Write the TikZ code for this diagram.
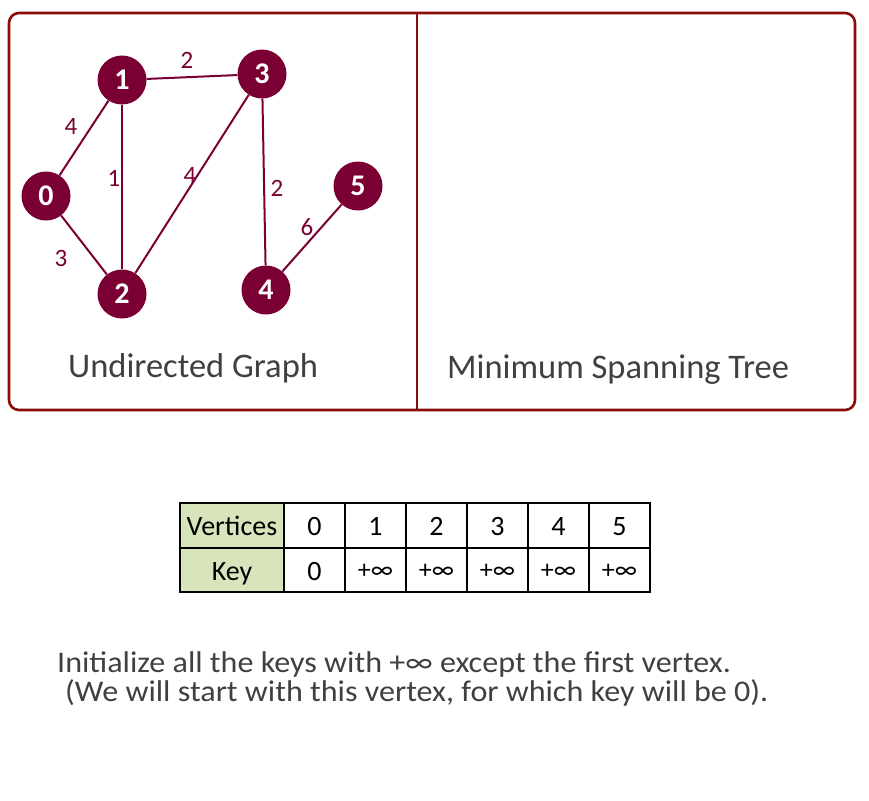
\documentclass[tikz,border=0pt]{standalone}
\usepackage{fontspec}
\setmainfont{Carlito}
\newfontfamily\widefont[FakeStretch=1.07]{Carlito}
\definecolor{nodefill}{HTML}{7A0034}
\definecolor{boxred}{HTML}{8B0A0A}
\definecolor{txtgray}{HTML}{404040}
\definecolor{cellgreen}{HTML}{D8E4BC}
\tikzset{
  vtx/.style={circle, fill=nodefill, minimum size=49pt, inner sep=0pt, text=white, font=\fontsize{30}{30}\selectfont\bfseries},
  edge/.style={draw=nodefill, line width=2pt},
  wlbl/.style={text=nodefill, inner sep=0pt, font=\fontsize{25}{25}\selectfont},
  captxt/.style={text=txtgray, inner sep=0pt, anchor=base west, font=\fontsize{34.5}{34.5}\selectfont},
  cell/.style={draw=black, line width=1.3pt},
  ctext/.style={inner sep=0pt, anchor=base, font=\fontsize{28}{28}\selectfont},
  itext/.style={inner sep=0pt, anchor=base, font=\fontsize{26}{26}\selectfont},
  body/.style={text=txtgray, inner sep=0pt, anchor=base west, font=\widefont\fontsize{30}{30}\selectfont}
}
\begin{document}
\begin{tikzpicture}[x=1pt,y=-1pt]
\useasboundingbox (0,0) rectangle (869,800);
% frame
\draw[boxred, line width=2.6pt, rounded corners=10pt] (9,13) rectangle (855,410);
\draw[boxred, line width=2.6pt] (417,13) -- (417,410);
% graph
\node[vtx] (n0) at (46,196) {0};
\node[vtx] (n1) at (122,80) {1};
\node[vtx] (n2) at (122,294) {2};
\node[vtx] (n3) at (262,74) {3};
\node[vtx] (n4) at (266,290) {4};
\node[vtx] (n5) at (358,186) {5};
\path[edge] (n0) -- (n1);
\path[edge] (n1) -- (n2);
\path[edge] (n1) -- (n3);
\path[edge] (n2) -- (n3);
\path[edge] (n0) -- (n2);
\path[edge] (n3) -- (n4);
\path[edge] (n4) -- (n5);
\node[wlbl] (w01) at (71,126) {4};
\node[wlbl] (w12) at (114,178) {1};
\node[wlbl] (w13) at (187,60) {2};
\node[wlbl] (w23) at (190,175) {4};
\node[wlbl] (w02) at (61,258) {3};
\node[wlbl] (w34) at (277,188) {2};
\node[wlbl] (w45) at (307,227) {6};
% captions
\node[captxt] (c1) at (68,377) {Undirected Graph};
\node[captxt] (c2) at (447,378) {Minimum Spanning Tree};
% table
\fill[cellgreen] (180,503) rectangle (284,592);
\foreach \xa/\xb in {180/284,284/345,345/406,406/467,467/528,528/589,589/650}{
  \draw[cell] (\xa,503) rectangle (\xb,548);
  \draw[cell] (\xa,548) rectangle (\xb,592);
}
\node[ctext] (tv) at (232,535) {Vertices};
\node[ctext] (tk) at (232,580) {Key};
\node[ctext] (v0) at (314.5,535) {0};
\node[ctext] (v1) at (375.5,535) {1};
\node[ctext] (v2) at (436.5,535) {2};
\node[ctext] (v3) at (497.5,535) {3};
\node[ctext] (v4) at (558.5,535) {4};
\node[ctext] (v5) at (619.5,535) {5};
\node[ctext] (k0) at (314.5,580) {0};
\node[itext] (k1) at (375.5,578) {+∞};
\node[itext] (k2) at (436.5,578) {+∞};
\node[itext] (k3) at (497.5,578) {+∞};
\node[itext] (k4) at (558.5,578) {+∞};
\node[itext] (k5) at (619.5,578) {+∞};
% body text
\node[body] (b1) at (57,672) {Initialize all the keys with +∞ except the first vertex.};
\node[body] (b2) at (65,701) {(We will start with this vertex, for which key will be 0).};
\end{tikzpicture}
\end{document}
